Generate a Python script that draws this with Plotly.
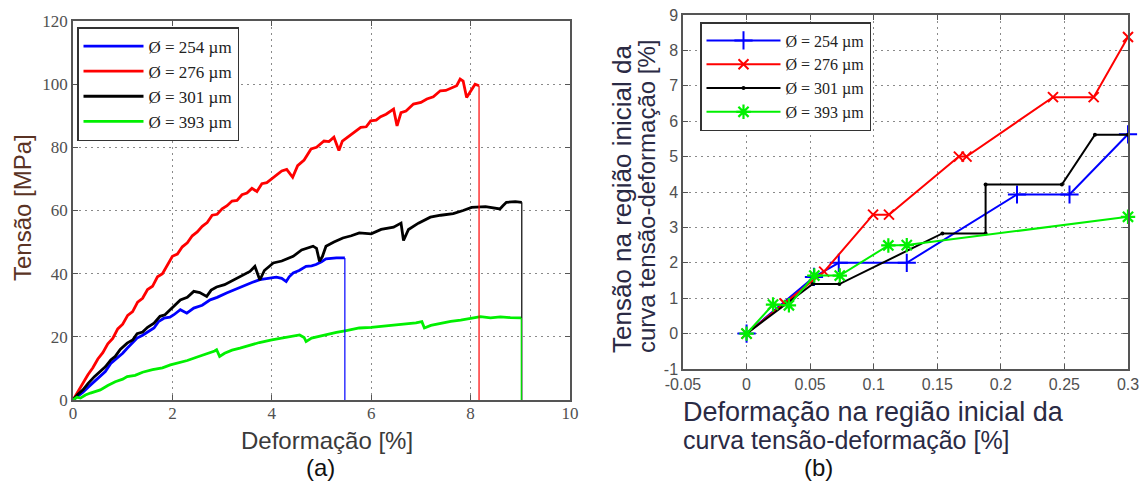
import plotly.graph_objects as go

W, H = 1141, 486

# ---------------- data: panel (a) stress-strain curves ----------------
LEGEND_LABELS = ["Ø = 254 µm", "Ø = 276 µm", "Ø = 301 µm", "Ø = 393 µm"]

A_254 = [(0,0),(0.1,1.2),(0.2,2.5),(0.3,4.0),(0.43,5.8),(0.55,7.5),(0.65,9.0),(0.76,11.6),(0.9,13.5),(1.0,14.8),
         (1.09,16.4),(1.2,18.0),(1.29,19.6),(1.4,20.5),(1.5,21.5),(1.63,22.8),(1.72,24.8),(1.83,25.9),(1.95,26.2),
         (2.03,27.0),(2.16,28.6),(2.29,27.5),(2.43,29.1),(2.6,30.0),(2.76,31.7),(2.9,32.5),(3.09,33.9),(3.25,35.0),
         (3.43,36.0),(3.6,37.2),(3.76,38.1),(3.9,38.4),(4.09,38.9),(4.2,38.5),(4.29,37.5),(4.35,39.0),(4.43,40.2),
         (4.55,41.0),(4.69,42.3),(4.8,42.5),(4.89,42.9),(5.0,43.8),(5.09,44.7),(5.3,45.0),(5.47,45.0)]

A_276 = [(0,0),(0.1,2.8),(0.2,5.2),(0.3,8.0),(0.4,10.2),(0.5,13.0),(0.6,15.0),(0.7,17.8),(0.8,19.5),(0.9,22.5),
         (1.0,24.0),(1.1,26.8),(1.2,28.0),(1.3,31.0),(1.4,32.2),(1.5,35.0),(1.6,36.0),(1.7,39.0),(1.8,40.0),(1.9,43.0),
         (2.0,45.5),(2.1,46.2),(2.2,48.5),(2.3,49.8),(2.4,52.0),(2.5,53.2),(2.6,55.0),(2.7,56.2),(2.8,58.5),(2.9,58.8),
         (3.0,60.5),(3.1,61.5),(3.2,63.0),(3.3,63.2),(3.4,65.0),(3.5,65.5),(3.6,67.0),(3.7,66.0),(3.8,68.5),(3.9,68.8),
         (4.0,70.0),(4.1,71.2),(4.2,72.5),(4.3,73.0),(4.42,70.5),(4.52,74.2),(4.65,76.0),(4.79,79.5),(4.9,80.0),
         (5.05,82.0),(5.15,81.8),(5.25,83.2),(5.35,79.0),(5.42,82.0),(5.52,83.2),(5.65,84.5),(5.79,86.3),(5.9,86.5),
         (5.99,88.4),(6.1,88.6),(6.19,89.7),(6.3,90.5),(6.45,92.1),(6.52,86.8),(6.6,91.0),(6.7,91.5),(6.85,93.7),
         (7.0,94.2),(7.12,95.3),(7.25,96.0),(7.39,97.9),(7.5,98.0),(7.65,99.0),(7.72,99.5),(7.79,101.6),(7.85,101.0),
         (7.92,95.8),(7.97,97.0),(8.02,98.4),(8.09,100.0),(8.17,99.5)]

A_301 = [(0,0),(0.1,1.8),(0.2,3.2),(0.3,5.2),(0.43,7.4),(0.55,9.2),(0.65,10.5),(0.76,12.7),(0.85,13.8),(0.95,16.0),
         (1.09,18.0),(1.2,19.0),(1.29,21.0),(1.4,21.5),(1.5,23.0),(1.63,24.3),(1.75,26.5),(1.85,27.0),(1.96,28.6),
         (2.05,30.0),(2.16,31.7),(2.3,32.5),(2.43,34.4),(2.55,34.0),(2.69,32.8),(2.78,34.8),(2.89,35.8),(3.05,36.5),
         (3.23,38.0),(3.4,39.5),(3.56,40.7),(3.66,42.3),(3.72,40.0),(3.76,38.0),(3.85,41.0),(4.03,43.4),(4.2,44.0),
         (4.43,45.5),(4.6,47.5),(4.83,48.7),(4.9,48.0),(4.96,43.9),(5.02,45.5),(5.09,48.7),(5.25,50.0),(5.43,51.3),
         (5.6,52.0),(5.76,52.9),(6.0,52.6),(6.2,54.0),(6.45,54.7),(6.6,56.0),(6.65,50.5),(6.75,54.0),(6.95,56.0),
         (7.19,57.9),(7.4,58.5),(7.65,59.0),(7.85,60.0),(8.02,61.0),(8.3,61.2),(8.59,60.5),(8.65,61.5),(8.72,62.6),
         (8.9,62.8),(9.03,62.6)]

A_393 = [(0,0),(0.08,0.9),(0.15,0.6),(0.25,1.6),(0.35,2.2),(0.43,2.6),(0.55,3.2),(0.7,4.6),(0.85,5.8),(1.0,6.6),
         (1.09,7.4),(1.25,7.8),(1.4,8.8),(1.6,9.6),(1.8,10.2),(1.96,11.1),(2.1,11.6),(2.3,12.5),(2.5,13.6),(2.7,14.6),
         (2.85,15.5),(2.89,15.9),(2.95,13.8),(3.05,14.8),(3.2,15.8),(3.36,16.4),(3.55,17.4),(3.75,18.2),(4.0,19.0),
         (4.2,19.5),(4.4,20.0),(4.56,20.6),(4.65,19.8),(4.69,18.5),(4.8,19.6),(4.95,20.2),(5.09,20.6),(5.3,21.4),
         (5.5,22.0),(5.76,22.8),(6.0,23.0),(6.3,23.4),(6.6,23.8),(6.9,24.4),(7.02,24.8),(7.07,22.8),(7.2,23.6),
         (7.4,24.3),(7.6,24.9),(7.8,25.3),(8.0,25.8),(8.2,26.4),(8.4,26.0),(8.6,26.3),(8.8,26.1),(9.02,26.0)]

# ---------------- data: panel (b) initial region ----------------
B_254 = [(0,0),(0.053,1.6),(0.0725,2.0),(0.126,2.0),(0.2127,3.93),(0.254,3.93),(0.3,5.63)]
B_276 = [(0,0),(0.03,0.85),(0.061,1.75),(0.0995,3.36),(0.112,3.36),(0.167,5.0),(0.173,5.0),(0.241,6.68),(0.273,6.68),(0.3,8.38)]
B_301 = [(0,0),(0.052,1.4),(0.073,1.4),(0.154,2.83),(0.188,2.83),(0.188,4.21),(0.248,4.21),(0.274,5.62),(0.3,5.62)]
B_393 = [(0,0),(0.0208,0.82),(0.0333,0.8),(0.0533,1.64),(0.0733,1.64),(0.1115,2.49),(0.126,2.5),(0.3,3.3)]

A_XTICKS = [0, 2, 4, 6, 8, 10]
A_YTICKS = [0, 20, 40, 60, 80, 100, 120]
B_XTICKS = [-0.05, 0, 0.05, 0.1, 0.15, 0.2, 0.25, 0.3]
B_XTICKTEXT = ["-0.05", "0", "0.05", "0.1", "0.15", "0.2", "0.25", "0.3"]
B_YTICKS = [-1, 0, 1, 2, 3, 4, 5, 6, 7, 8, 9]
B_YTICKTEXT = ["-1", "0", "1", "2", "3", "4", "5", "6", "7", "8", "9"]

COLORS = ["#0000ff", "#ff0000", "#000000", "#00f000"]

fig = go.Figure()

def xs(p): return [q[0] for q in p]
def ys(p): return [q[1] for q in p]

# panel (a)
for series, col, lab in zip([A_254, A_276, A_301, A_393], COLORS, LEGEND_LABELS):
    fig.add_trace(go.Scatter(x=xs(series), y=ys(series), mode="lines", name=lab,
                             line=dict(color=col, width=2.8), xaxis="x", yaxis="y", legend="legend"))
for series, col in zip([A_254, A_276, A_301, A_393], COLORS):
    fig.add_trace(go.Scatter(x=[series[-1][0], series[-1][0]], y=[series[-1][1], 0], mode="lines",
                             line=dict(color=col, width=1.2), showlegend=False, xaxis="x", yaxis="y"))

# panel (b)
SYMB = [("cross-thin", 13, 2), ("x-thin", 10, 2), ("circle", 4, 0), ("asterisk", 12, 2.2)]
for series, col, lab, (sym, sz, lw) in zip([B_254, B_276, B_301, B_393], COLORS, LEGEND_LABELS, SYMB):
    fig.add_trace(go.Scatter(x=xs(series), y=ys(series), mode="lines+markers", name=lab,
                             line=dict(color=col, width=2),
                             marker=dict(symbol=sym, size=sz, color=col, line=dict(color=col, width=lw)),
                             cliponaxis=False, xaxis="x2", yaxis="y2", legend="legend2"))

def px(x): return x / W
def py(y): return 1 - y / H

serif_ticks = dict(family="Liberation Serif", size=17, color="#505050")
sans_ticks = dict(family="Liberation Sans", size=16, color="#505050")

def ax(font):
    return dict(showline=True, linecolor="#555555", linewidth=1.5, mirror="ticks", ticks="inside",
                ticklen=5, tickcolor="#555555", showgrid=True, gridcolor="#8a8a8a", griddash="2px,4px",
                gridwidth=1, zeroline=False, tickfont=font, automargin=False)

fig.update_layout(
    width=W, height=H, margin=dict(l=0, r=0, t=0, b=0, autoexpand=False),
    paper_bgcolor="white", plot_bgcolor="white",
    xaxis=dict(domain=[px(73), px(570)], range=[0, 10], tickvals=A_XTICKS, anchor="y",
               ticklabelstandoff=-3, **ax(serif_ticks)),
    yaxis=dict(domain=[py(400), py(21)], range=[0, 120], tickvals=A_YTICKS, anchor="x", **ax(serif_ticks)),
    xaxis2=dict(domain=[px(683), px(1128)], range=[-0.05, 0.3], tickvals=B_XTICKS, ticktext=B_XTICKTEXT,
                anchor="y2", ticklabelstandoff=0, **ax(sans_ticks)),
    yaxis2=dict(domain=[py(369), py(15)], range=[-1, 9], tickvals=B_YTICKS, ticktext=B_YTICKTEXT,
                anchor="x2", **ax(sans_ticks)),
    legend=dict(x=px(77), y=py(27), xanchor="left", yanchor="top", bgcolor="white",
                bordercolor="#333333", borderwidth=1.5, itemwidth=60, tracegroupgap=0,
                font=dict(family="Liberation Serif", size=17, color="#222222")),
    legend2=dict(x=px(700), y=py(22), xanchor="left", yanchor="top", bgcolor="white",
                 bordercolor="#333333", borderwidth=1.5, itemwidth=74, tracegroupgap=0,
                 font=dict(family="Liberation Serif", size=16, color="#222222")),
    showlegend=True,
)

def ann(text, x, y, size, color, xanchor="center", yanchor="middle", **kw):
    fig.add_annotation(text=text, x=px(x), y=py(y), xref="paper", yref="paper", showarrow=False,
                       xanchor=xanchor, yanchor=yanchor,
                       font=dict(family="Liberation Sans", size=size, color=color), **kw)

ann("Deformação [%]", 327, 440, 24, "#3a3a3a")
ann("Tensão [MPa]", 22, 208, 24, "#5a3324", textangle=-90)
ann("(a)", 320, 467, 24, "#111111")
ann("(b)", 818, 467, 24, "#111111")
ann("Deformação na região inicial da", 681, 412, 27, "#2a2a44", xanchor="left")
ann("curva tensão-deformação [%]", 681, 440, 25, "#2a2a44", xanchor="left")
ann("Tensão na região inicial da", 622, 355, 26, "#2a2a44", textangle=-90, yanchor="bottom")
ann("curva tensão-deformação [%]", 646, 355, 24, "#2a2a44", textangle=-90, yanchor="bottom")

fig.write_html("out.html", config={"displayModeBar": False},
               post_script="document.body.style.margin='0px';document.body.style.overflow='hidden';")
